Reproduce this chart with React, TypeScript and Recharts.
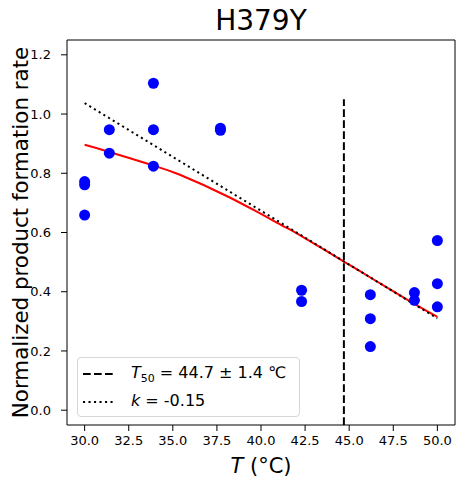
import React from 'react';
import {
  ComposedChart,
  Scatter,
  Line,
  XAxis,
  YAxis,
  ReferenceLine,
  ReferenceArea,
} from 'recharts';

// measured replicates
const pointTemp = [30.0, 30.0, 30.0, 31.4, 31.4, 33.9, 33.9, 33.9, 37.7, 37.7, 42.3, 42.3, 46.2, 46.2, 46.2, 48.7, 48.7, 50.0, 50.0, 50.0];
const pointRate = [0.772, 0.761, 0.659, 0.947, 0.868, 1.104, 0.947, 0.824, 0.952, 0.945, 0.405, 0.367, 0.39, 0.309, 0.215, 0.397, 0.371, 0.573, 0.427, 0.349];

// sigmoid fit
const fitTemp = [30.0, 31.4, 33.9, 35.4, 38.2, 41.1, 42.2, 44.7, 46.2, 48.5, 50.0];
const fitRate = [0.896, 0.872, 0.826, 0.795, 0.719, 0.627, 0.591, 0.502, 0.448, 0.366, 0.315];

// slope line at T50
const slopeTemp = [30.0, 50.0];
const slopeRate = [1.037, 0.31];

const t50 = 44.7;
const xTicks = [30.0, 32.5, 35.0, 37.5, 40.0, 42.5, 45.0, 47.5, 50.0];
const yTicks = [0.0, 0.2, 0.4, 0.6, 0.8, 1.0, 1.2];

const points = pointTemp.map((x, i) => ({ x, y: pointRate[i] }));
const fit = fitTemp.map((x, i) => ({ x, y: fitRate[i] }));
const slope = slopeTemp.map((x, i) => ({ x, y: slopeRate[i] }));

const FONT = 'DejaVu Sans';
const DASHED = '7.7 3.3';
const DOTTED = '2.1 3.4';

const Dot = (props: any) => <circle cx={props.cx} cy={props.cy} r={5.5} fill="#0000ff" />;

const XLabel = (props: any) => {
  const vb = props.viewBox;
  return (
    <text x={vb.x + vb.width / 2} y={vb.y + 48} textAnchor="middle" fontFamily={FONT} fontSize={21} fill="#000">
      <tspan fontStyle="italic">T</tspan> (°C)
    </text>
  );
};

const YLabel = (props: any) => {
  const vb = props.viewBox;
  const cx = 28;
  const cy = vb.y + vb.height / 2;
  return (
    <text x={cx} y={cy} transform={`rotate(-90, ${cx}, ${cy})`} textAnchor="middle" fontFamily={FONT} fontSize={21.4} fill="#000">
      Normalized product formation rate
    </text>
  );
};

const LegendBox = () => (
  <div
    style={{
      position: 'absolute',
      left: 77,
      top: 357,
      width: 221,
      height: 58,
      border: '1px solid #d6d6d6',
      borderRadius: 4,
      background: 'rgba(255,255,255,0.8)',
      fontFamily: FONT,
      fontSize: 16,
      color: '#000',
    }}
  >
    <svg width={40} height={58} style={{ position: 'absolute', left: 0, top: 0 }}>
      <line x1={5} x2={37} y1={16} y2={16} stroke="#000" strokeWidth={2} strokeDasharray={DASHED} />
      <line x1={5} x2={37} y1={44} y2={44} stroke="#000" strokeWidth={2} strokeDasharray={DOTTED} />
    </svg>
    <div style={{ position: 'absolute', left: 53, top: 5, whiteSpace: 'nowrap', lineHeight: '20px' }}>
      <i>T</i>
      <sub style={{ fontSize: 11 }}>50</sub> = 44.7 ± 1.4 ℃
    </div>
    <div style={{ position: 'absolute', left: 53, top: 33, whiteSpace: 'nowrap', lineHeight: '20px' }}>
      <i>k</i> = -0.15
    </div>
  </div>
);

export default function App() {
  return (
    <div style={{ position: 'absolute', left: 0, top: 0, width: 464, height: 487, background: '#fff' }}>
      <div
        style={{
          position: 'absolute',
          left: 0,
          width: 522,
          top: 4,
          textAlign: 'center',
          fontFamily: FONT,
          fontSize: 28,
          lineHeight: '34px',
        }}
      >
        H379Y
      </div>
      <ComposedChart width={464} height={487} margin={{ top: 40, right: 9, bottom: 0, left: 0 }}>
        <XAxis
          type="number"
          dataKey="x"
          domain={[29, 51]}
          ticks={xTicks}
          allowDataOverflow
          height={62}
          axisLine={false}
          tickLine={{ stroke: '#000' }}
          tickSize={6}
          tickMargin={5}
          tick={{ fill: '#000', fontSize: 13, fontFamily: FONT }}
          tickFormatter={(v: number) => v.toFixed(1)}
          label={{ content: XLabel }}
        />
        <YAxis
          type="number"
          dataKey="y"
          domain={[-0.05, 1.25]}
          ticks={yTicks}
          allowDataOverflow
          width={67}
          axisLine={false}
          tickLine={{ stroke: '#000' }}
          tickSize={6}
          tickMargin={10}
          tick={{ fill: '#000', fontSize: 13, fontFamily: FONT }}
          tickFormatter={(v: number) => v.toFixed(1)}
          label={{ content: YLabel }}
        />
        <ReferenceArea x1={29} x2={51} y1={-0.05} y2={1.25} fill="none" stroke="#000" strokeWidth={1} fillOpacity={0} />
        <ReferenceLine
          segment={[{ x: t50, y: -0.05 }, { x: t50, y: 1.05 }]}
          stroke="#000"
          strokeWidth={2}
          strokeDasharray={DASHED}
        />
        <Line data={fit} dataKey="y" type="natural" stroke="#ff0000" strokeWidth={2} dot={false} isAnimationActive={false} />
        <Line data={slope} dataKey="y" type="linear" stroke="#000" strokeWidth={2} strokeDasharray={DOTTED} dot={false} isAnimationActive={false} />
        <Scatter data={points} dataKey="y" shape={Dot} isAnimationActive={false} />
      </ComposedChart>
      <LegendBox />
    </div>
  );
}
